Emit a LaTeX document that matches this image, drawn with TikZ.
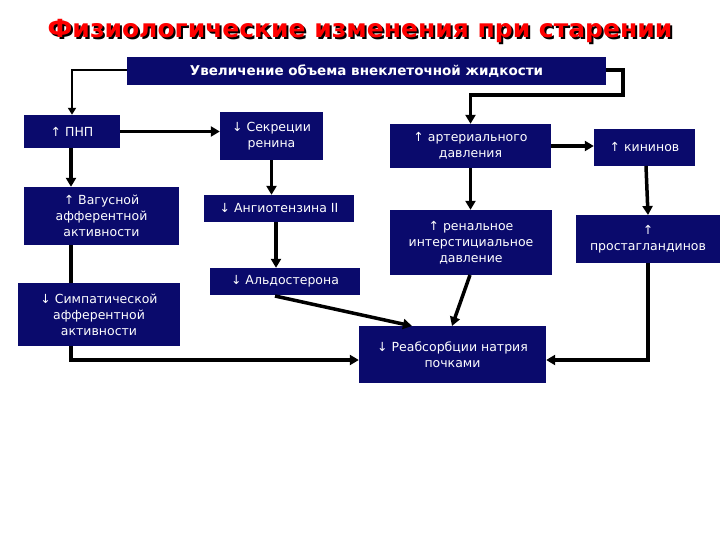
\documentclass[tikz,border=0pt]{standalone}
\usepackage{fontspec}
\setmainfont{DejaVu Sans}
\usetikzlibrary{arrows.meta}
\begin{document}
\begin{tikzpicture}[x=1pt,y=-1pt,
  bx/.style={fill=boxblue,text=white,inner sep=0pt,font=\fontsize{12.5}{16}\selectfont,align=center},
  ar/.style={line width=3.5pt,-{Triangle[length=9pt,width=10pt]}},
  ln/.style={line width=3.5pt}]
\definecolor{boxblue}{HTML}{0A0A6C}
\useasboundingbox (0,0) rectangle (720,540);
\newcommand{\bx}[6]{\node[bx,minimum width=#4-#2,minimum height=#5-#3] (#1) at ({(#2+#4)/2},{(#3+#5)/2}) {#6};}
\node[text=black,font=\bfseries\fontsize{25}{28}\selectfont] at (362,33) {Физиологические изменения при старении};
\node[text=red,font=\bfseries\fontsize{25}{28}\selectfont] (title) at (360,31) {Физиологические изменения при старении};
\bx{top}{127}{57}{606}{85}{\bfseries\fontsize{13.5}{16}\selectfont Увеличение объема внеклеточной жидкости}
\bx{pnp}{24}{115}{120}{148}{↑ ПНП}
\bx{sek}{220}{112}{323}{160}{↓ Секреции\\ренина}
\bx{vag}{24}{187}{179}{245}{↑ Вагусной\\афферентной\\активности}
\bx{ang}{204}{195}{354}{222}{↓ Ангиотензина II}
\bx{sym}{18}{283}{180}{346}{↓ Симпатической\\афферентной\\активности}
\bx{ald}{210}{268}{360}{295}{↓ Альдостерона}
\bx{art}{390}{124}{551}{168}{↑ артериального\\давления}
\bx{kin}{594}{129}{695}{166}{↑ кининов}
\bx{ren}{390}{210}{552}{275}{↑ ренальное\\интерстициальное\\давление}
\bx{pro}{576}{215}{720}{263}{↑\\простагландинов}
\bx{rea}{359}{326}{546}{383}{↓ Реабсорбции натрия\\почками}
\draw[line width=2pt,-{Triangle[length=7pt,width=8pt]}] (top.west|-0,70) -| (pnp.north);
\draw[ln,-{Triangle[length=9pt,width=10pt]}] (top.east|-0,70) -- (623,70) -- (623,95) -| (art.north);
\draw[ar] (pnp.east) -- (sek.west|-pnp.east);
\draw[ar] (sek.south) -- (ang.north-|sek.south);
\draw[ar] (276,222) -- (ald.north-|276,0);
\draw[ar] (71,148) -- (vag.north-|71,0);
\draw[ln] (71,245) -- (71,283);
\draw[ar] (71,346) -- (71,360) -- (rea.west|-0,360);
\draw[ar] (pro.south) -- (648,360) -- (rea.east|-0,360);
\draw[ar] (275,296) -- (412,326);
\draw[ar] (470,275) -- (452,326);
\draw[ar] (art.south) -- (ren.north-|art.south);
\draw[ar] (art.east|-0,146) -- (kin.west|-0,146);
\draw[ar] (646,166) -- (648,215);
\end{tikzpicture}
\end{document}
